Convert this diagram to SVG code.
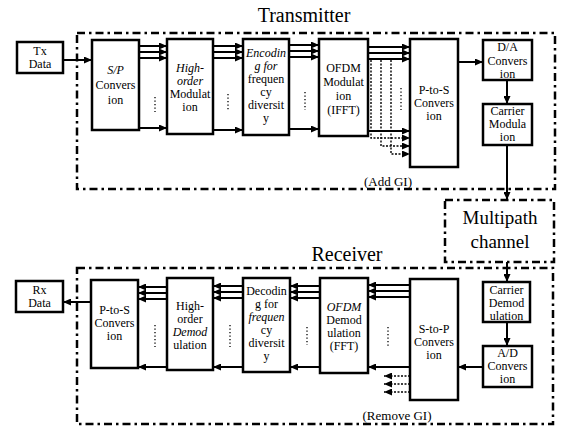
<svg xmlns="http://www.w3.org/2000/svg" width="562" height="428" viewBox="0 0 562 428">
<style>
.box{fill:#fff;stroke:#000;stroke-width:2.5}
.frame{fill:none;stroke:#000;stroke-width:2.5;stroke-dasharray:8 4 2.5 4}
.t{font-family:"Liberation Serif","Times New Roman",serif;font-size:12px;text-anchor:middle;fill:#000}
.i{font-style:italic}
.big{font-size:20px}
.mp{font-size:19px}
.sm{font-size:13px}
.ln{fill:none;stroke:#000;stroke-width:2;marker-end:url(#ah)}
.dl{fill:none;stroke:#000;stroke-width:1.4;stroke-dasharray:2 1.5;marker-end:url(#ah)}
.el{fill:none;stroke:#000;stroke-width:1.3;stroke-dasharray:1.3 2.2}
</style>
<defs>
<marker id="ah" markerUnits="userSpaceOnUse" markerWidth="8" markerHeight="7" refX="8" refY="3.5" orient="auto">
<path d="M0,0 L8,3.5 L0,7 z" fill="#000"/>
</marker>
</defs>
<rect width="562" height="428" fill="#fff"/>

<g id="transmitter">
<rect class="frame" x="77" y="33" width="478" height="156"/>
<text class="t big" x="304" y="22">Transmitter</text>
<text class="t sm" x="388" y="186">(Add GI)</text>
</g>
<g id="receiver">
<rect class="frame" x="77" y="268" width="476" height="156"/>
<text class="t big" x="347" y="261">Receiver</text>
<text class="t sm" x="397" y="420">(Remove GI)</text>
</g>

<g id="connectors">
<path class="ln" d="M63,60 H92"/>
<path class="ln" d="M139,46 H167"/><path class="ln" d="M139,52 H167"/><path class="ln" d="M139,58 H167"/><path class="ln" d="M139,128 H167"/>
<path class="ln" d="M213,46 H243"/><path class="ln" d="M213,52 H243"/><path class="ln" d="M213,58 H243"/><path class="ln" d="M213,130 H243"/>
<path class="ln" d="M289,45 H319"/><path class="ln" d="M289,51 H319"/><path class="ln" d="M289,57 H319"/><path class="ln" d="M289,129 H319"/>
<path class="ln" d="M368,47 H410"/><path class="ln" d="M368,53 H410"/><path class="ln" d="M368,59 H410"/><path class="ln" d="M368,131 H410"/>
<path class="dl" d="M371,60 V138 H410"/><path class="dl" d="M381,60 V146 H410"/><path class="dl" d="M391,60 V154 H410"/>
<path class="el" d="M155,97 V112"/><path class="el" d="M228,94 V111"/><path class="el" d="M305,92 V110"/><path class="el" d="M401,88 V110"/>
<path class="ln" d="M458,62 H483"/>
<path class="ln" d="M507,80 V104"/>
<path class="ln" d="M507,145 V200"/>
<path class="ln" d="M507,262 V282"/>
<path class="ln" d="M507,322 V346"/>
<path class="ln" d="M483,367 H458"/>
<path class="ln" d="M410,285 H368"/><path class="ln" d="M410,291 H368"/><path class="ln" d="M410,297 H368"/><path class="ln" d="M410,367 H368"/>
<path class="ln" d="M320,286 H290"/><path class="ln" d="M320,292 H290"/><path class="ln" d="M320,298 H290"/><path class="ln" d="M320,367 H290"/>
<path class="ln" d="M243,286 H213"/><path class="ln" d="M243,292 H213"/><path class="ln" d="M243,298 H213"/><path class="ln" d="M243,367 H213"/>
<path class="ln" d="M167,287 H138"/><path class="ln" d="M167,293 H138"/><path class="ln" d="M167,299 H138"/><path class="ln" d="M167,367 H138"/>
<path class="ln" d="M91,302 H63"/>
<path class="dl" d="M410,376 H384"/><path class="dl" d="M410,384 H384"/><path class="dl" d="M410,392 H384"/>
<path class="el" d="M155,325 V347"/><path class="el" d="M230,325 V347"/><path class="el" d="M307,327 V345"/><path class="el" d="M388,327 V347"/>
</g>

<g id="tx-data"><rect class="box" x="17" y="42" width="46" height="31"/>
<text class="t" x="40" y="55">Tx</text><text class="t" x="40" y="68">Data</text></g>
<g id="sp-conversion"><rect class="box" x="92" y="40" width="47" height="90"/>
<text class="t i" x="115.5" y="74">S/P</text><text class="t" x="115.5" y="89">Convers</text><text class="t" x="115.5" y="104">ion</text></g>
<g id="high-order-modulation"><rect class="box" x="167" y="39" width="46" height="95"/>
<text class="t i" x="190" y="72">High-</text><text class="t i" x="190" y="85">order</text><text class="t" x="190" y="98">Modulat</text><text class="t" x="190" y="111">ion</text></g>
<g id="encoding"><rect class="box" x="243" y="39" width="46" height="96"/>
<text class="t i" x="266" y="57">Encodin</text><text class="t i" x="266" y="70">g for</text><text class="t" x="266" y="83">frequen</text><text class="t" x="266" y="96">cy</text><text class="t" x="266" y="109">diversit</text><text class="t" x="266" y="122">y</text></g>
<g id="ofdm-modulation"><rect class="box" x="319" y="39" width="49" height="97"/>
<text class="t" x="343.5" y="72">OFDM</text><text class="t" x="343.5" y="86">Modulat</text><text class="t" x="343.5" y="100">ion</text><text class="t" x="343.5" y="114">(IFFT)</text></g>
<g id="p-to-s-tx"><rect class="box" x="410" y="39" width="48" height="128"/>
<text class="t" x="434" y="94">P-to-S</text><text class="t" x="434" y="107">Convers</text><text class="t" x="434" y="120">ion</text></g>
<g id="da-conversion"><rect class="box" x="483" y="40" width="49" height="40"/>
<text class="t" x="507.5" y="51">D/A</text><text class="t" x="507.5" y="65">Convers</text><text class="t" x="507.5" y="78">ion</text></g>
<g id="carrier-modulation"><rect class="box" x="483" y="104" width="49" height="41"/>
<text class="t" x="507.5" y="115">Carrier</text><text class="t" x="507.5" y="128">Modula</text><text class="t" x="507.5" y="141">ion</text></g>
<g id="multipath-channel"><rect class="frame" x="445" y="200" width="109" height="62"/>
<text class="t mp" x="500" y="224">Multipath</text><text class="t mp" x="500" y="248">channel</text></g>

<g id="rx-data"><rect class="box" x="16" y="281" width="47" height="31"/>
<text class="t" x="39.5" y="294">Rx</text><text class="t" x="39.5" y="307">Data</text></g>
<g id="p-to-s-rx"><rect class="box" x="91" y="280" width="47" height="88"/>
<text class="t" x="114.5" y="314">P-to-S</text><text class="t" x="114.5" y="327">Convers</text><text class="t" x="114.5" y="340">ion</text></g>
<g id="high-order-demodulation"><rect class="box" x="167" y="278" width="46" height="92"/>
<text class="t" x="190" y="310">High-</text><text class="t" x="190" y="323">order</text><text class="t i" x="190" y="336">Demod</text><text class="t" x="190" y="349">ulation</text></g>
<g id="decoding"><rect class="box" x="243" y="278" width="47" height="94"/>
<text class="t" x="266.5" y="295">Decodin</text><text class="t" x="266.5" y="308">g for</text><text class="t i" x="266.5" y="321">frequen</text><text class="t" x="266.5" y="334">cy</text><text class="t" x="266.5" y="347">diversit</text><text class="t" x="266.5" y="360">y</text></g>
<g id="ofdm-demodulation"><rect class="box" x="320" y="278" width="48" height="95"/>
<text class="t i" x="344" y="311">OFDM</text><text class="t" x="344" y="324">Demod</text><text class="t" x="344" y="337">ulation</text><text class="t" x="344" y="350">(FFT)</text></g>
<g id="s-to-p"><rect class="box" x="410" y="279" width="48" height="121"/>
<text class="t" x="434" y="333">S-to-P</text><text class="t" x="434" y="346">Convers</text><text class="t" x="434" y="359">ion</text></g>
<g id="carrier-demodulation"><rect class="box" x="483" y="282" width="47" height="40"/>
<text class="t" x="506.5" y="294">Carrier</text><text class="t" x="506.5" y="307">Demod</text><text class="t" x="506.5" y="320">ulation</text></g>
<g id="ad-conversion"><rect class="box" x="483" y="346" width="49" height="41"/>
<text class="t" x="507.5" y="357">A/D</text><text class="t" x="507.5" y="370">Convers</text><text class="t" x="507.5" y="383">ion</text></g>
</svg>
